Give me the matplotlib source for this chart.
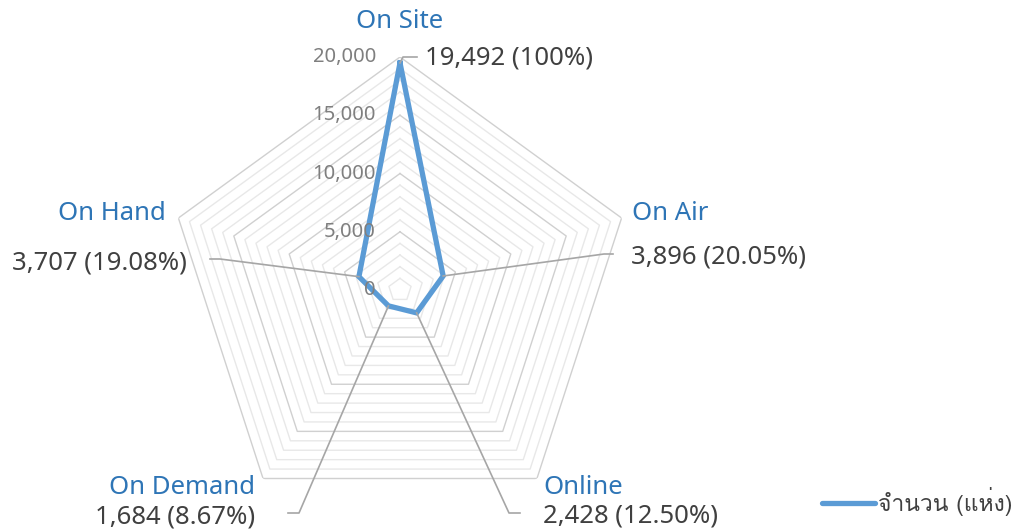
import numpy as np
import matplotlib
matplotlib.use("Agg")
import matplotlib.pyplot as plt
from matplotlib import font_manager
from matplotlib.ft2font import FT2Font
from matplotlib.lines import Line2D

categories = ["On Site", "On Air", "Online", "On Demand", "On Hand"]
values = [19492, 3896, 2428, 1684, 3707]
percent_labels = ["100%", "20.05%", "12.50%", "8.67%", "19.08%"]
r_ticks = [0, 5000, 10000, 15000, 20000]
series_name = "จำนวน (แห่ง)"

# find a font with Thai glyphs
thai_fonts = []
for f in font_manager.fontManager.ttflist:
    if f.name in thai_fonts:
        continue
    try:
        cm = FT2Font(f.fname).get_charmap()
        if 0x0E08 in cm and 0x0E19 in cm:
            thai_fonts.append(f.name)
    except Exception:
        pass
thai_font = "DejaVu Sans"
for pref in ["Leelawadee UI", "Tahoma", "Loma", "Noto Sans Thai"]:
    if pref in thai_fonts:
        thai_font = pref
        break
else:
    if thai_fonts:
        thai_font = thai_fonts[0]

plt.rcParams['font.family'] = ['Noto Sans', thai_font, 'DejaVu Sans']

W, H = 1016, 531
fig = plt.figure(figsize=(W / 100, H / 100), dpi=100)
cx, cy, R = 400, 290, 233
ax = fig.add_axes([(cx - R) / W, (H - cy - R) / H, 2 * R / W, 2 * R / H], projection='polar')
ax.set_theta_offset(np.pi / 2)
ax.set_theta_direction(-1)
ax.set_ylim(0, 20000)
ax.grid(False)
ax.set_xticks([])
ax.set_yticks([])
ax.spines['polar'].set_visible(False)
ax.patch.set_alpha(0)

n = len(categories)
angles = np.linspace(0, 2 * np.pi, n, endpoint=False)
ang_c = np.append(angles, angles[0])

# polygon grid
for lvl in range(1000, 20001, 1000):
    major = lvl % 5000 == 0
    ax.plot(ang_c, [lvl] * (n + 1), color='#D0D0D0' if major else '#E8E8E8',
            lw=1.0, zorder=1)

# series
vals_c = values + [values[0]]
ax.plot(ang_c, vals_c, color='#5B9BD5', lw=3.8, zorder=5, solid_joinstyle='miter')

# radial tick labels
for t in r_ticks:
    ax.annotate(f"{t:,}", xy=(0, t), xytext=(-24, 0), textcoords='offset pixels',
                ha='right', va='center', fontsize=14.5, color='#7F7F7F', zorder=6)

# label layout in image pixels: (elbow, end, cat text pos, cat ha, val text pos, val ha)
layout = [
    ((403, 57), (417, 57), (400, 22), 'center', (425, 58), 'left'),
    ((604, 254), (613, 254), (632, 213), 'left', (631, 257), 'left'),
    ((509, 513), (520, 513), (543, 487), 'left', (543, 516), 'left'),
    ((299, 513), (288, 513), (255, 487), 'right', (255, 517), 'right'),
    ((220, 259), (210, 259), (166, 213), 'right', (187, 263), 'right'),
]

fig.canvas.draw()
for i, (cat, v, p) in enumerate(zip(categories, values, percent_labels)):
    elbow, end, cpos, cha, vpos, vha = layout[i]
    px, py = ax.transData.transform((angles[i], v))
    xs = [px, elbow[0], end[0]]
    ys = [py, H - elbow[1], H - end[1]]
    fig.add_artist(Line2D(xs, ys, transform=None, color='#A6A6A6', lw=1.2, zorder=4))
    fig.text(cpos[0] / W, 1 - cpos[1] / H, cat, ha=cha, va='center',
             fontsize=18.5, color='#2E75B6')
    fig.text(vpos[0] / W, 1 - vpos[1] / H, f"{v:,} ({p})", ha=vha, va='center',
             fontsize=18.5, color='#404040')

handle = Line2D([], [], color='#5B9BD5', lw=3.8, solid_capstyle='round')
fig.legend([handle], [series_name], loc='center left',
           bbox_to_anchor=(822 / W, 1 - 502 / H), frameon=False,
           borderpad=0, borderaxespad=0, handlelength=2.3, handletextpad=0.15,
           prop={'family': [thai_font, 'DejaVu Sans'], 'size': 16.5}, labelcolor='#404040')

fig.savefig("out.png", dpi=100)
